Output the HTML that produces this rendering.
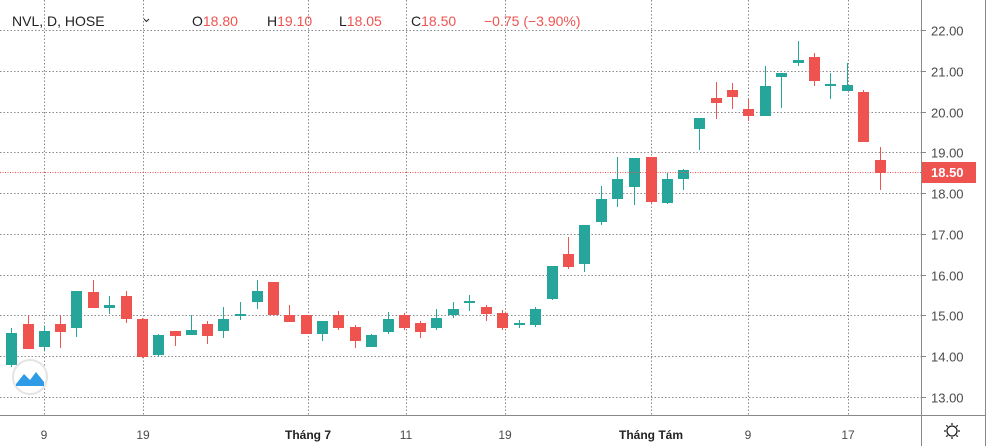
<!DOCTYPE html>
<html><head><meta charset="utf-8"><style>
html,body{margin:0;padding:0;background:#fff;}
svg{display:block;font-family:"Liberation Sans",sans-serif;}
</style></head><body>
<svg id="c" width="986" height="446" xmlns="http://www.w3.org/2000/svg">
<rect width="986" height="446" fill="#fff"/>
<g id="grid" stroke="#8a8a8a" stroke-width="1" stroke-dasharray="1.5,2"></g>
<g id="candles"></g>
<line x1="0" y1="172.5" x2="921" y2="172.5" stroke="#ef5350" stroke-width="1" stroke-dasharray="1,1.5"/>
<line x1="921.5" y1="0" x2="921.5" y2="446" stroke="#888"/>
<line x1="0" y1="415.5" x2="986" y2="415.5" stroke="#888"/>
<line x1="985.5" y1="0" x2="985.5" y2="446" stroke="#888"/>
<g id="ylab" font-size="13" fill="#4a4a4a"></g>
<rect x="922" y="162" width="54" height="21" fill="#ef5350"/>
<text x="931" y="177" font-size="13" font-weight="bold" fill="#fff">18.50</text>
<g font-size="12" fill="#4a4a4a" text-anchor="middle">
<text x="44" y="439">9</text><text x="143" y="439">19</text>
<text x="308" y="439" font-weight="bold" fill="#222">Tháng 7</text>
<text x="406" y="439">11</text><text x="505" y="439">19</text>
<text x="651" y="439" font-weight="bold" fill="#222">Tháng Tám</text>
<text x="748" y="439">9</text><text x="848" y="439">17</text>
</g>
<g font-size="14">
<text x="12" y="26" fill="#222">NVL, D, HOSE</text>
<path d="M144 19 L146.5 21.5 L149 19" stroke="#222" stroke-width="1" fill="none"/>
<text x="192" y="26" fill="#222">O<tspan fill="#ef5350">18.80</tspan></text>
<text x="267" y="26" fill="#222">H<tspan fill="#ef5350">19.10</tspan></text>
<text x="339" y="26" fill="#222">L<tspan fill="#ef5350">18.05</tspan></text>
<text x="411" y="26" fill="#222">C<tspan fill="#ef5350">18.50</tspan></text>
<text x="484" y="26" fill="#ef5350">−0.75 (−3.90%)</text>
</g>
<circle cx="30" cy="377" r="17" fill="#fff" stroke="#e4e4e4" stroke-width="2"/>
<path d="M16 384 L24 374 L30 380 L36 372 L44 382 L44 386 L16 386 Z" fill="#2e9be6"/>
<path d="M16 380 L24 371 L30 377 L36 369 L44 379" stroke="#fff" stroke-width="2" fill="none"/>
<g transform="translate(952,431)" stroke="#222" stroke-width="1.3" fill="none">
<circle r="5"/>
<path d="M0-8V-6M0 6V8M-8 0H-6M6 0H8M-5.7-5.7L-4.3-4.3M4.3 4.3L5.7 5.7M-5.7 5.7L-4.3 4.3M4.3-4.3L5.7-5.7"/>
</g>
</svg>
<script>
var ns="http://www.w3.org/2000/svg";
function el(p,t,a){var e=document.createElementNS(ns,t);for(var k in a)e.setAttribute(k,a[k]);p.appendChild(e);return e;}
var g=document.getElementById('grid'),yl=document.getElementById('ylab');
for(var p=13;p<=22;p++){var y=Math.round(30+(22-p)*40.78)+0.5;
el(g,'line',{x1:0,y1:y,x2:921,y2:y});
el(document.getElementById('c'),'line',{x1:921,y1:y,x2:926,y2:y,stroke:'#888'});
var t=el(yl,'text',{x:931,y:y+5});t.textContent=p.toFixed(2);}
[44,143,308,406,505,651,748,848].forEach(function(x){el(g,'line',{x1:x+0.5,y1:0,x2:x+0.5,y2:415});});
var G='#26a69a',R='#ef5350';
var d=[[11,328,367,333,365,G],[28,315,349,324,349,R],[44,326,351,331,347,G],[60,315,348,324,332,R],[76,291,337,291,328,G],[93,280,308,292,308,R],[109,296,314,305,308,G],[126,291,323,296,319,R],[142,318,358,319,357,R],[158,334,357,335,355,G],[175,331,346,331,336,R],[191,315,335,330,335,G],[207,321,344,324,336,R],[223,307,338,319,331,G],[240,302,320,314,316,G],[257,280,309,291,302,G],[273,282,315,282,315,R],[289,305,322,315,322,R],[306,315,334,315,334,R],[322,321,341,321,334,G],[338,311,330,315,328,R],[355,325,348,327,341,R],[371,334,347,335,347,G],[388,312,334,319,332,G],[404,313,330,315,328,R],[420,321,338,323,332,R],[436,309,330,318,328,G],[453,302,318,309,315,G],[469,295,311,301,303,G],[486,305,321,307,314,R],[502,310,330,313,328,R],[519,320,328,323,325,G],[535,307,327,309,325,G],[552,266,300,266,299,G],[568,237,269,254,267,R],[584,225,272,225,264,G],[601,186,225,199,222,G],[617,157,207,179,199,G],[634,158,205,158,187,G],[651,157,203,157,202,R],[667,173,204,179,203,G],[683,169,190,170,179,G],[699,118,150,118,129,G],[716,82,119,98,103,R],[732,83,109,90,97,R],[748,99,121,109,116,R],[765,66,116,86,116,G],[781,73,108,73,77,G],[798,41,66,60,63,G],[814,53,86,57,81,R],[830,73,99,84,86,G],[847,63,91,85,91,G],[863,90,142,92,142,R],[880,147,190,160,173,R]];
var cg=document.getElementById('candles');
d.forEach(function(c){el(cg,'line',{x1:c[0]+0.5,y1:c[1],x2:c[0]+0.5,y2:c[2],stroke:c[5],'stroke-width':1});
el(cg,'rect',{x:c[0]-5,y:c[3],width:11,height:Math.max(2,c[4]-c[3]),fill:c[5]});});
</script>
</body></html>
